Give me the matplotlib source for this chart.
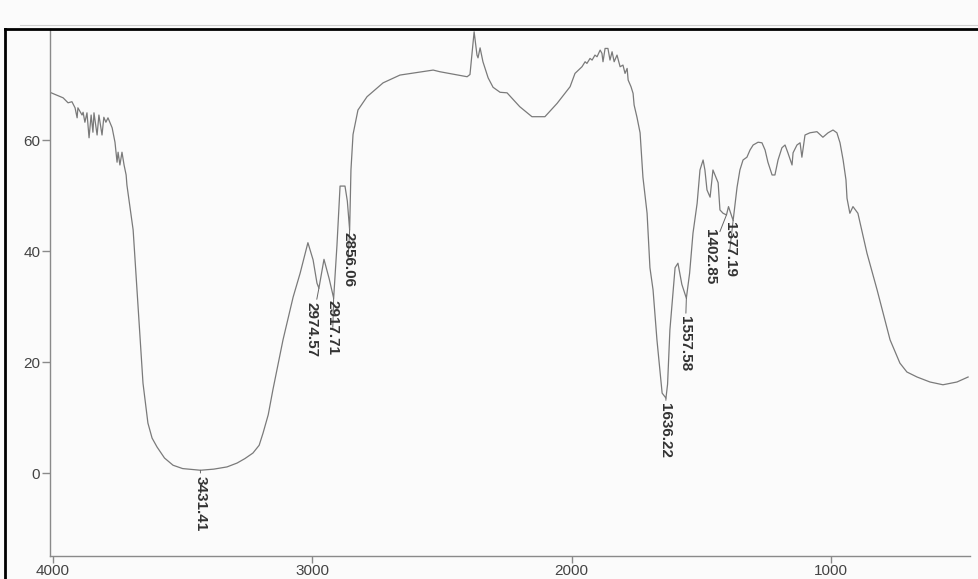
import numpy as np
import matplotlib
matplotlib.use("Agg")
import matplotlib.pyplot as plt
from matplotlib.lines import Line2D

# IR spectrum: wavenumber [cm-1] vs transmittance [%]
wavenumber = [
    4012, 3961, 3942, 3927, 3915, 3907, 3904, 3888, 3884, 3877,
    3869, 3861, 3853, 3846, 3842, 3830, 3823, 3811, 3804, 3796,
    3788, 3772, 3761, 3753, 3749, 3742, 3734, 3726, 3718, 3715,
    3691, 3676, 3653, 3634, 3618, 3599, 3570, 3537, 3500, 3431.41,
    3380, 3329, 3290, 3260, 3229, 3205, 3190, 3170, 3152, 3113,
    3074, 3047, 3017, 2997, 2982, 2974.57,
    2955, 2935, 2917.71, 2905, 2893, 2874, 2865, 2856.06, 2851, 2843,
    2824, 2789, 2727, 2662, 2534, 2508, 2403, 2392, 2376, 2365,
    2361, 2353, 2342, 2322, 2303, 2276, 2249, 2200, 2153, 2103,
    2056, 2006, 1987, 1960, 1948, 1941, 1929, 1921, 1910, 1902,
    1890, 1883, 1879, 1871, 1860, 1852, 1844, 1836, 1825, 1813,
    1802, 1794, 1786, 1782, 1771, 1763, 1759, 1748, 1736, 1725,
    1709, 1698, 1686, 1671, 1651, 1636.22, 1630, 1621, 1601, 1590,
    1575, 1557.58, 1545, 1532, 1516, 1505, 1493, 1486, 1478, 1466,
    1455, 1443, 1435, 1428, 1416, 1402.85, 1395, 1377.19, 1362, 1351,
    1339, 1324, 1312, 1300, 1281, 1266, 1254, 1243, 1227, 1216,
    1204, 1189, 1177, 1166, 1150, 1146, 1131, 1119, 1112, 1100,
    1081, 1054, 1031, 1011, 992, 977, 965, 953, 942, 938,
    927, 915, 896, 861, 822, 772, 734, 707, 668, 618,
    568, 514, 471,
]
transmittance = [
    68.6, 67.6, 66.7, 66.9, 65.8, 64.0, 65.8, 64.5, 65.0, 63.2,
    64.9, 60.4, 64.5, 61.4, 64.9, 60.9, 64.5, 60.9, 64.1, 63.2,
    64.0, 62.2, 59.6, 56.0, 57.8, 55.5, 57.8, 55.5, 53.7, 51.9,
    43.8, 33.0, 16.2, 9.0, 6.3, 4.7, 2.7, 1.4, 0.8, 0.5,
    0.7, 1.1, 1.8, 2.6, 3.6, 5.0, 7.2, 10.5, 15.0, 24.0,
    31.7, 36.0, 41.5, 38.4, 34.2, 33.3,
    38.5, 35.0, 31.5, 41.0, 51.7, 51.7, 49.0, 43.8, 54.6, 61.0,
    65.4, 67.8, 70.3, 71.7, 72.6, 72.3, 71.4, 71.8, 79.5, 75.3,
    74.8, 76.6, 74.1, 71.2, 69.5, 68.6, 68.5, 66.0, 64.2, 64.2,
    66.6, 69.6, 72.0, 73.2, 74.1, 73.8, 74.7, 74.4, 75.3, 75.0,
    76.2, 75.6, 74.1, 76.5, 76.5, 74.4, 75.9, 74.1, 75.3, 73.2,
    73.5, 72.0, 72.9, 70.8, 69.6, 68.4, 66.3, 64.1, 61.3, 53.3,
    46.8, 37.0, 33.0, 24.0, 14.4, 13.5, 16.0, 25.8, 37.0, 37.8,
    34.0, 31.5, 36.0, 43.2, 48.6, 54.6, 56.4, 54.6, 51.0, 49.7,
    54.6, 53.2, 52.3, 47.4, 46.8, 46.5, 48.0, 45.5, 51.5, 54.6,
    56.4, 56.9, 58.2, 59.1, 59.6, 59.5, 58.2, 56.0, 53.7, 53.7,
    56.4, 58.6, 59.1, 57.7, 55.5, 57.7, 59.1, 59.5, 56.9, 60.9,
    61.3, 61.5, 60.5, 61.3, 61.8, 61.3, 59.5, 56.4, 52.8, 49.5,
    46.8, 48.0, 46.8, 39.6, 33.0, 24.0, 19.8, 18.2, 17.3, 16.4,
    15.9, 16.4, 17.3,
]

# peak labels: text, curve point, text anchor (top centre of rotated text)
peak_labels = ["3431.41", "2974.57", "2917.71", "2856.06",
               "1636.22", "1557.58", "1402.85", "1377.19"]
peak_pos = [(3431.41, 0.5), (2974.57, 33.3), (2917.71, 31.5), (2856.06, 43.8),
            (1636.22, 13.5), (1557.58, 31.5), (1402.85, 46.5), (1377.19, 45.5)]
label_pos = [(3431.41, -0.5), (3005, 30.8), (2921, 31.2), (2862, 43.5),
             (1640, 12.6), (1563, 28.3), (1466, 44.0), (1390, 45.2)]

x_ticks = [4000, 3000, 2000, 1000]
y_ticks = [0, 20, 40, 60]

#%%
plt.rcParams["font.family"] = ["Liberation Sans", "DejaVu Sans"]

W, H = 979, 579
fig = plt.figure(figsize=(W / 100, H / 100), dpi=100)
fig.patch.set_facecolor("#fbfbfb")

ax = fig.add_axes([50 / W, 23 / H, 929 / W, 527 / H])
ax.set_facecolor("none")

ax.plot(wavenumber, transmittance, color="#7a7a7a", lw=0.9)

ax.set_xlim(4011.6, 429)
ax.set_ylim(-14.95, 80.0)

ax.spines["top"].set_visible(False)
ax.spines["right"].set_visible(False)
for s in ["left", "bottom"]:
    ax.spines[s].set_color("#8a8a8a")
    ax.spines[s].set_linewidth(1.0)
ax.spines["bottom"].set_bounds(4011.6, 465)

ax.set_xticks(x_ticks)
ax.set_yticks(y_ticks)
ax.tick_params(axis="both", direction="out", color="#8a8a8a",
               labelcolor="#444444", labelsize=11, width=1.0)
ax.tick_params(axis="y", length=6, pad=1)
ax.tick_params(axis="x", length=5, pad=1)

for txt, xy, xyt in zip(peak_labels, peak_pos, label_pos):
    ax.annotate(
        txt, xy=xy, xytext=xyt, textcoords="data",
        rotation=-90, ha="center", va="top",
        fontsize=11, fontweight="bold", color="#333333",
        arrowprops=dict(arrowstyle="-", color="#666666", lw=0.7,
                        shrinkA=0, shrinkB=0),
    )

# black frame of the scanned sheet
fig.add_artist(Line2D([5 / W, 1.0], [1 - 29 / H, 1 - 29 / H],
                      transform=fig.transFigure, color="black", lw=2.0))
fig.add_artist(Line2D([5 / W, 5 / W], [0, 1 - 29 / H],
                      transform=fig.transFigure, color="black", lw=2.0))
fig.add_artist(Line2D([20 / W, 1.0], [1 - 25 / H, 1 - 25 / H],
                      transform=fig.transFigure, color="#d0d0d0", lw=0.8))

fig.savefig("out.png", dpi=100)
